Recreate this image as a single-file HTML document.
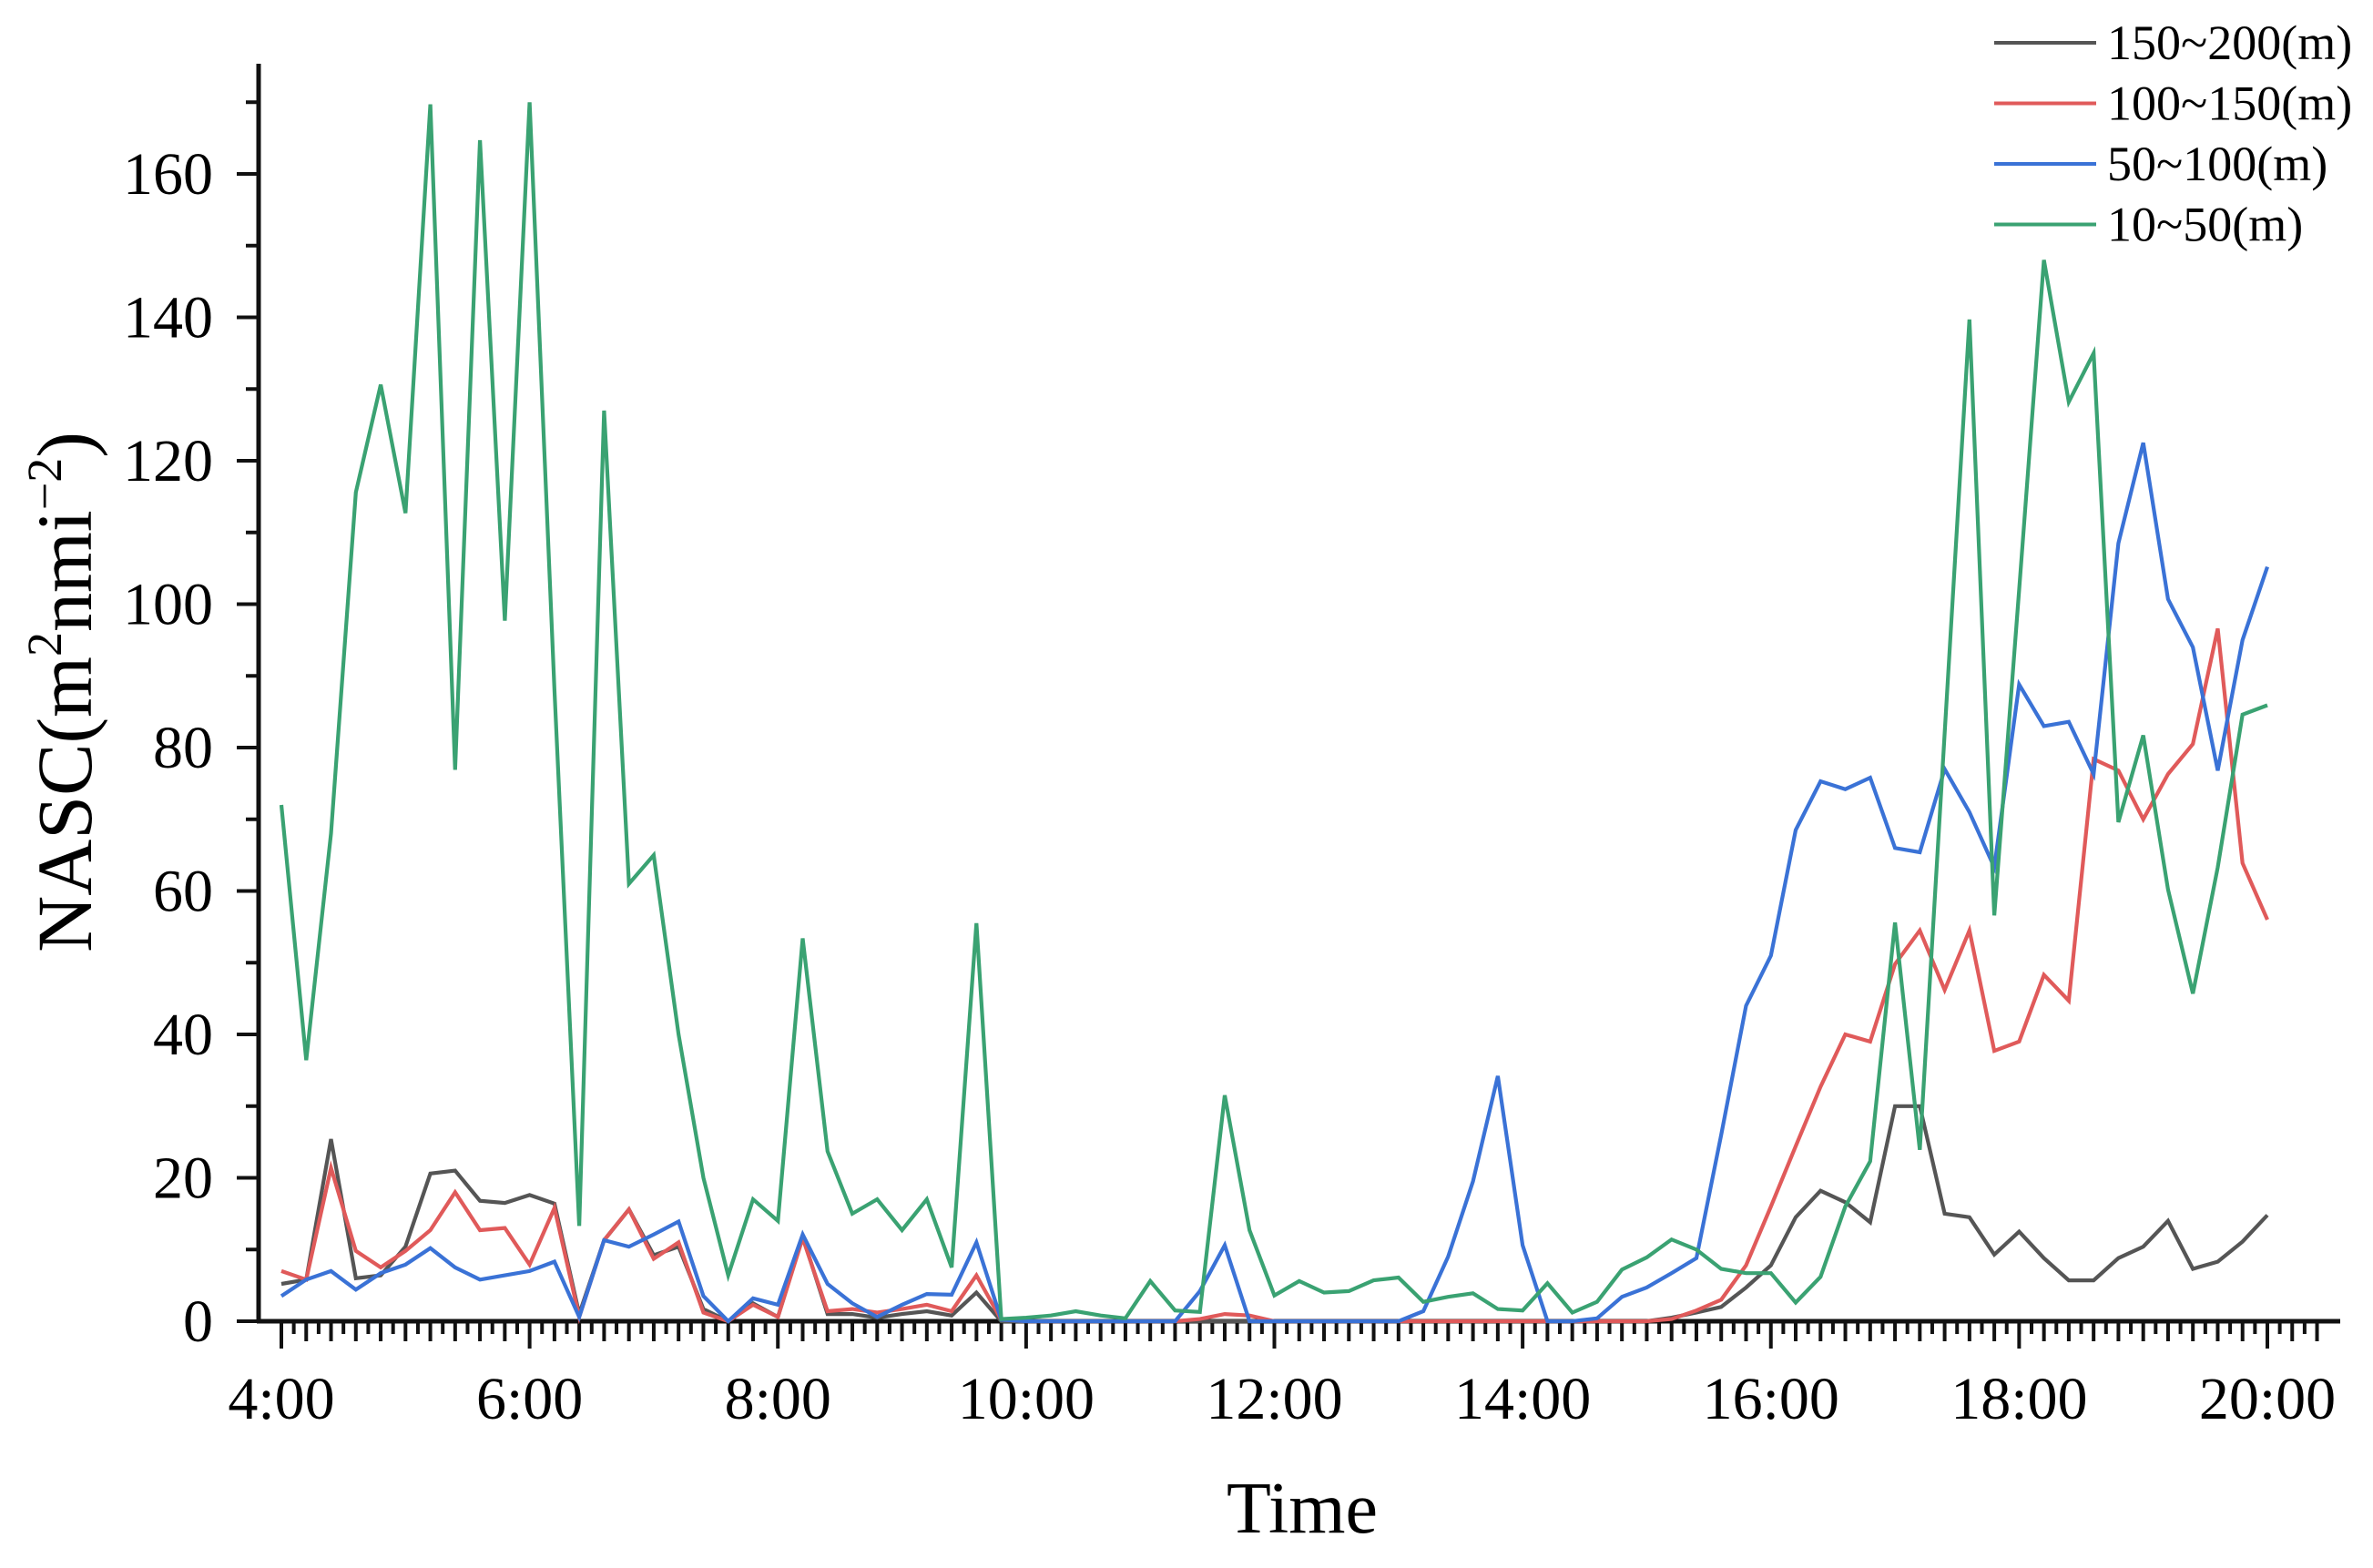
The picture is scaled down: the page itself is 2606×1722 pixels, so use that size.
<!DOCTYPE html>
<html><head><meta charset="utf-8"><style>
html,body{margin:0;padding:0;background:#fff;}
svg{display:block;font-family:"Liberation Serif",serif;}
</style></head><body>
<svg id="chart" width="2606" height="1722" viewBox="0 0 2606 1722" xmlns="http://www.w3.org/2000/svg">
<g id="axes"></g>
<g id="series"></g>
<text x="1430" y="1683" font-size="80" text-anchor="middle">Time</text>
<text transform="translate(100,760) rotate(-90)" font-size="86" text-anchor="middle">NASC(m<tspan font-size="54" dy="-33">2</tspan><tspan dy="33">nmi</tspan><tspan font-size="54" dy="-33">−2</tspan><tspan dy="33">)</tspan></text>
<g id="legend"></g>
</svg>
<script>
const xTickLabels = ["4:00","6:00","8:00","10:00","12:00","14:00","16:00","18:00","20:00"];
const yTickValues = [0,20,40,60,80,100,120,140,160];
const seriesNames = ["150~200(m)","100~150(m)","50~100(m)","10~50(m)"];
const s150_200 = [5.2,5.8,25.4,6,6.4,10.4,20.6,21,16.8,16.5,17.6,16.4,1,11.3,15.6,9.2,10.4,1.7,0,2.5,0.6,11.8,1,1,0.5,1,1.4,0.8,4,0,
0,0,0,0,0,0,0,0,0,0,0,0,0,0,0,0,0,0,0,0,0,0,0,0,0,
0,0.5,1.2,2,4.7,7.8,14.5,18.2,16.6,13.8,30,30,15,14.5,9.3,12.5,8.8,5.7,5.7,8.8,10.4,14,7.3,8.3,11.1,14.8];
const s100_150 = [7,5.8,21.4,9.8,7.5,9.8,12.7,18,12.7,13,7.9,15.8,0.6,11.3,15.6,8.7,11,1.2,0,2.3,0.6,11.6,1.4,1.7,1.2,1.7,2.3,1.4,6.4,0.2,
0,0,0,0,0,0,0,0.3,1,0.8,0,0,0,0,0,0,0,0,0,0,0,0,0,0,0,
0,0.3,1.5,3,7.8,16,24.4,32.7,40,39,49.8,54.5,46.2,54.5,37.7,39,48.3,44.7,78.4,76.8,70,76.3,80.5,96.6,63.9,56];
const s50_100 = [3.5,5.8,7,4.4,6.7,7.9,10.2,7.5,5.8,6.4,7,8.3,0.6,11.3,10.4,12.1,13.9,3.5,0,3.2,2.3,12.1,5.2,2.5,0.6,2.3,3.8,3.7,11,0.2,
0,0,0,0,0,0,0,4.2,10.6,0,0,0,0,0,0,0,1.4,9,19.5,34.2,10.6,0,0,0.4,3.4,
4.7,6.7,8.8,26,44,51,68.5,75.3,74.2,75.8,66,65.4,77,71,63.3,88.8,83,83.6,76.3,108.5,122.5,100.7,94,76.8,95,105.2];
const s10_50 = [72,36.4,68,115.6,130.6,112.7,169.7,76.9,164.7,97.7,170,88,13.3,127,61,65,40,20,6.4,17,14,53.4,23.7,15,17,12.7,17,7.5,55.5,0.3,
0.5,0.8,1.4,0.8,0.4,5.6,1.5,1.3,31.5,12.7,3.6,5.6,4,4.2,5.7,6.1,2.7,3.4,3.9,1.7,1.5,5.3,1.2,2.7,7.2,8.9,11.4,
10,7.3,6.7,6.7,2.6,6.2,16,22.3,55.6,23.9,82,139.7,56.6,102,148,128.2,135,69.6,81.7,60.2,45.7,63.3,84.6,85.9];

const NS="http://www.w3.org/2000/svg";
const X0=309, X1=2490, NPTS=81, Y0=1451, YPER=7.875;
function xs(i){return X0+(X1-X0)*i/(NPTS-1);}
function ys(v){return Y0-v*YPER;}
function mk(tag,attrs,parent){const e=document.createElementNS(NS,tag);for(const k in attrs)e.setAttribute(k,attrs[k]);parent.appendChild(e);return e;}

const axes=document.getElementById('axes');
let a=mk('line',{x1:284,y1:70,x2:284,y2:Y0+2,stroke:'#111','stroke-width':5},axes);


a=mk('line',{x1:282,y1:Y0,x2:2570,y2:Y0,stroke:'#111','stroke-width':5},axes);


for(let v=0;v<=170;v+=10){
  const major=(v%20===0);
  const t=mk('line',{x1:284,y1:ys(v),x2:major?260:270,y2:ys(v),stroke:'#111','stroke-width':4},axes);
  
  
}
yTickValues.forEach(v=>{
  const t=mk('text',{x:234,y:ys(v)+22,'font-size':66,'text-anchor':'end'},axes);
  t.textContent=v;
  
  
});
for(let k=0;k<=2*(NPTS-1)+4;k++){
  const x=X0+(X1-X0)*k/(2*(NPTS-1));
  if(x<290||x>2568)continue;
  const major=(k%20===0), mid=(k%2===0);
  const t=mk('line',{x1:x,y1:Y0,x2:x,y2:Y0+(major?30:(mid?22:14)),stroke:'#111','stroke-width':4},axes);
  
  
}
xTickLabels.forEach((lab,j)=>{
  const t=mk('text',{x:xs(j*10),y:1558,'font-size':66,'text-anchor':'middle'},axes);
  t.textContent=lab;
  
  
});

const colors=['#555555','#e05a5a','#3a72d6','#3aa272'];
const data=[s150_200,s100_150,s50_100,s10_50];
const sg=document.getElementById('series');
data.forEach((arr,si)=>{
  const pts=arr.map((v,i)=>xs(i).toFixed(1)+','+ys(v).toFixed(1)).join(' ');
  const p=mk('polyline',{points:pts,fill:'none',stroke:colors[si],'stroke-width':4.2,'stroke-linejoin':'miter'},sg);
  
  
});
const lg=document.getElementById('legend');
seriesNames.forEach((n,si)=>{
  const y=47+si*66.5;
  const l=mk('line',{x1:2190,y1:y,x2:2302,y2:y,stroke:colors[si],'stroke-width':4},lg);
  
  
  const t=mk('text',{x:2314,y:y+18,'font-size':54},lg);
  t.textContent=n;
  
  
});
</script>
</body></html>
